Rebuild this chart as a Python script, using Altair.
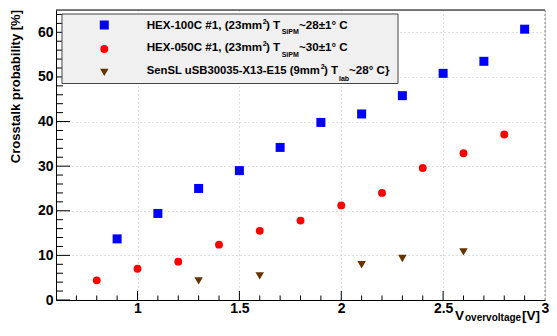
import altair as alt
import pandas as pd

# ---------------- data ----------------
hex100_v = [0.9, 1.1, 1.3, 1.5, 1.7, 1.9, 2.1, 2.3, 2.5, 2.7, 2.9]
hex100_ct = [13.7, 19.4, 25.0, 29.0, 34.2, 39.8, 41.7, 45.8, 50.8, 53.5, 60.7]
hex050_v = [0.8, 1.0, 1.2, 1.4, 1.6, 1.8, 2.0, 2.2, 2.4, 2.6, 2.8]
hex050_ct = [4.4, 7.0, 8.6, 12.4, 15.5, 17.8, 21.2, 24.0, 29.6, 32.9, 37.1]
sensl_v = [1.3, 1.6, 2.1, 2.3, 2.6]
sensl_ct = [4.3, 5.4, 7.9, 9.3, 10.8]

x_labels = [1, 1.5, 2, 2.5, 3]
y_labels = [0, 10, 20, 30, 40, 50, 60]
x_minor = [0.7, 0.8, 0.9, 1.1, 1.2, 1.3, 1.4, 1.6, 1.7, 1.8, 1.9,
           2.1, 2.2, 2.3, 2.4, 2.6, 2.7, 2.8, 2.9]
y_minor = [2, 4, 6, 8, 12, 14, 16, 18, 22, 24, 26, 28, 32, 34, 36, 38,
           42, 44, 46, 48, 52, 54, 56, 58, 62, 64]

# ---------------- style / layout ----------------
FONT = "Liberation Sans"
W, H = 489, 290
BLUE, RED, BROWN = "#0000ff", "#ff0000", "#663300"
GRID = "#c0c0c0"

xs = alt.Scale(domain=[0.6, 3], nice=False, zero=False)
ys = alt.Scale(domain=[0, 65], nice=False, zero=False)

x_axis = alt.Axis(values=x_labels, format="~g", title=None, ticks=False,
                  domainColor="black", domainWidth=1, grid=True,
                  gridColor=GRID, gridDash=[1, 3], gridWidth=1,
                  labelFont=FONT, labelFontWeight="bold", labelFontSize=14,
                  labelColor="black", labelPadding=1, labelFlush=False,
                  labelOverlap=False)
y_axis = alt.Axis(values=y_labels, title=None, ticks=False,
                  domainColor="black", domainWidth=1, grid=True,
                  gridColor=GRID, gridDash=[1, 3], gridWidth=1,
                  labelFont=FONT, labelFontWeight="bold", labelFontSize=14,
                  labelColor="black", labelPadding=3, labelFlush=False,
                  labelOverlap=False)


def series_layer(xv, yv, color, shape, size):
    d = pd.DataFrame({"v": xv, "ct": yv})
    return alt.Chart(d).mark_point(filled=True, opacity=1, color=color,
                                   shape=shape, size=size, strokeWidth=0).encode(
        x=alt.X("v:Q", scale=xs, axis=x_axis),
        y=alt.Y("ct:Q", scale=ys, axis=y_axis),
    )


blue = series_layer(hex100_v, hex100_ct, BLUE, "square", 81)
red = series_layer(hex050_v, hex050_ct, RED, "circle", 62)
brown = series_layer(sensl_v, sensl_ct, BROWN, "triangle-down", 72)


# inside ticks
def ytick(vals, length):
    return alt.Chart(pd.DataFrame({"ct": vals})).mark_rule(color="black", strokeWidth=1).encode(
        y=alt.Y("ct:Q", scale=ys, axis=y_axis), x=alt.value(0), x2=alt.value(length))


def xtick(vals, length):
    return alt.Chart(pd.DataFrame({"v": vals})).mark_rule(color="black", strokeWidth=1).encode(
        x=alt.X("v:Q", scale=xs, axis=x_axis), y=alt.value(H), y2=alt.value(H - length))


ticks = [ytick(y_labels, 14), ytick(y_minor, 7), xtick(x_labels[:-1], 9), xtick(x_minor, 4.5)]

one = pd.DataFrame({"a": [0]})

top_line = alt.Chart(one).mark_rule(color="black", strokeWidth=1).encode(
    x=alt.value(0), x2=alt.value(W), y=alt.value(0))
right_line = alt.Chart(one).mark_rule(color="#888888", strokeWidth=1, strokeDash=[2, 2]).encode(
    x=alt.value(W), y=alt.value(0), y2=alt.value(H))

# legend box
legend_box = alt.Chart(one).mark_rect(fill="#f0f0f0", stroke="#444444", strokeWidth=1).encode(
    x=alt.value(6), x2=alt.value(342), y=alt.value(4), y2=alt.value(73.5))


def lmark(color, shape, size, y):
    return alt.Chart(one).mark_point(filled=True, opacity=1, color=color, shape=shape,
                                     size=size, strokeWidth=0).encode(
        x=alt.value(48.3), y=alt.value(y))


legend_marks = [lmark(BLUE, "square", 81, 15), lmark(RED, "circle", 62, 39),
                lmark(BROWN, "triangle-down", 72, 62.3)]

# text segments: (text, x, y, size, align, angle)
segments = [
    ("HEX-100C #1, (23mm", 90.7, 19, 11.6, "left", 0),
    ("2", 206.7, 14, 7, "left", 0),
    (") T", 210, 19, 11.6, "left", 0),
    ("SiPM", 225.7, 24, 7, "left", 0),
    ("~28±1° C", 243, 19, 11.6, "left", 0),
    ("HEX-050C #1, (23mm", 90.7, 41.3, 11.6, "left", 0),
    ("2", 206.7, 36.3, 7, "left", 0),
    (") T", 210, 41.3, 11.6, "left", 0),
    ("SiPM", 225.7, 46.5, 7, "left", 0),
    ("~30±1° C", 243, 41.3, 11.6, "left", 0),
    ("SenSL uSB30035-X13-E15 (9mm", 90.7, 64, 11.3, "left", 0),
    ("2", 264.8, 58.5, 7, "left", 0),
    (") T", 268, 64, 11.6, "left", 0),
    ("lab", 283, 70.7, 7, "left", 0),
    ("~28° C}", 293, 64, 11.6, "left", 0),
    ("V", 399, 310, 13.5, "left", 0),
    ("overvoltage", 409, 311, 10, "left", 0),
    ("[V]", 484, 310, 13.5, "right", 0),
    ("Crosstalk probability [%]", -36.5, 0, 13, "right", 270),
]

texts = []
for t, px, py, fs, al, ang in segments:
    texts.append(
        alt.Chart(pd.DataFrame({"t": [t]})).mark_text(
            font=FONT, fontWeight="bold", fontSize=fs, color="black",
            align=al, baseline="alphabetic", angle=ang).encode(
            text="t:N", x=alt.value(px), y=alt.value(py)))

chart = alt.layer(blue, *ticks, red, brown, legend_box, *legend_marks,
                  top_line, right_line, *texts).properties(
    width=W, height=H,
    autosize=alt.AutoSizeParams(type="none"),
    padding={"left": 48, "top": 2, "right": 4, "bottom": 23},
).configure_view(stroke=None).configure(background="white")

chart.save("out.html", embed_options={"renderer": "svg", "actions": False})
